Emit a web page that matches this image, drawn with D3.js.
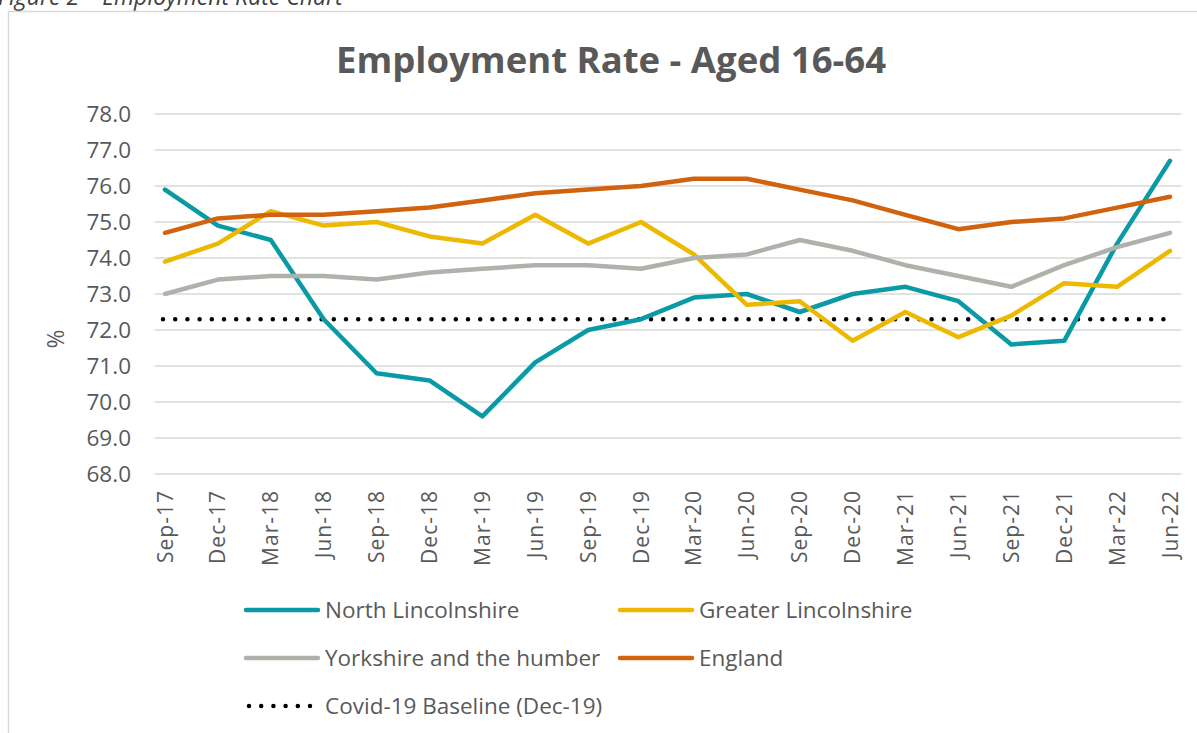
<!DOCTYPE html>
<html>
<head>
<meta charset="utf-8">
<script src="https://cdn.jsdelivr.net/npm/d3@7"></script>
<style>
  html, body { margin: 0; padding: 0; background: #fff; }
  svg { display: block; font-family: "Open Sans", "Noto Sans", sans-serif; }
</style>
</head>
<body>
<svg id="chart" width="1197" height="733"></svg>
<script>
const categories = ["Sep-17","Dec-17","Mar-18","Jun-18","Sep-18","Dec-18","Mar-19","Jun-19","Sep-19","Dec-19",
  "Mar-20","Jun-20","Sep-20","Dec-20","Mar-21","Jun-21","Sep-21","Dec-21","Mar-22","Jun-22"];
const northLincolnshire = [75.9,74.9,74.5,72.3,70.8,70.6,69.6,71.1,72.0,72.3,72.9,73.0,72.5,73.0,73.2,72.8,71.6,71.7,74.4,76.7];
const greaterLincolnshire = [73.9,74.4,75.3,74.9,75.0,74.6,74.4,75.2,74.4,75.0,74.1,72.7,72.8,71.7,72.5,71.8,72.4,73.3,73.2,74.2];
const yorkshireHumber = [73.0,73.4,73.5,73.5,73.4,73.6,73.7,73.8,73.8,73.7,74.0,74.1,74.5,74.2,73.8,73.5,73.2,73.8,74.3,74.7];
const england = [74.7,75.1,75.2,75.2,75.3,75.4,75.6,75.8,75.9,76.0,76.2,76.2,75.9,75.6,75.2,74.8,75.0,75.1,75.4,75.7];
const covidBaseline = 72.3;
const yTicks = [68,69,70,71,72,73,74,75,76,77,78];

const seriesNames = ["North Lincolnshire","Greater Lincolnshire","Yorkshire and the humber","England"];
const seriesColors = ["#0A9AA5","#EDB800","#ADB2AA","#D1620E"];
const seriesValues = [northLincolnshire, greaterLincolnshire, yorkshireHumber, england];

const svg = d3.select("#chart");
const textColor = "#595959";
const ff = "'Open Sans', 'Noto Sans', sans-serif";

// caption (cut off at top, as in the reference)
svg.append("text").attr("x", -2).attr("y", 5)
  .attr("font-size", 23).attr("font-style", "italic").attr("fill", "#404040")
  .text("Figure 2 – Employment Rate Chart");

// frame
svg.append("path").attr("d", "M8.5,733 L8.5,11.5 L1197,11.5")
  .attr("fill", "none").attr("stroke", "#D9D9D9").attr("stroke-width", 1.5);

// title
svg.append("text").attr("x", 611).attr("y", 73).attr("text-anchor", "middle")
  .attr("font-size", 36.5).attr("font-weight", "bold").attr("fill", textColor)
  .text("Employment Rate - Aged 16-64");

const x = d3.scalePoint().domain(categories).range([165, 1170]);
const y = d3.scaleLinear().domain([68, 78]).range([474, 114]);
const gridLeft = 155, gridRight = 1181;

// gridlines
svg.append("g").selectAll("line").data(yTicks).join("line")
  .attr("x1", gridLeft).attr("x2", gridRight)
  .attr("y1", d => y(d)).attr("y2", d => y(d))
  .attr("stroke", "#D9D9D9").attr("stroke-width", 1.5);

// y axis labels
const yAxis = d3.axisLeft(y).tickValues(yTicks).tickFormat(d3.format(".1f")).tickSize(0).tickPadding(0);
const gy = svg.append("g").attr("transform", "translate(131,0)").call(yAxis);
gy.select(".domain").remove();
gy.selectAll("text").attr("font-size", 22.5).attr("fill", textColor)
  .attr("font-family", ff).attr("dy", "0.35em");

svg.append("text").attr("transform", "translate(64,339) rotate(-90)")
  .attr("text-anchor", "middle").attr("font-size", 23).attr("fill", textColor).text("%");

// x axis labels
const xAxis = d3.axisBottom(x).tickSize(0).tickPadding(0);
const gx = svg.append("g").attr("transform", "translate(0,490)").call(xAxis);
gx.select(".domain").remove();
gx.selectAll("text")
  .attr("font-size", 21).attr("fill", textColor).attr("letter-spacing", 1)
  .attr("font-family", ff)
  .attr("text-anchor", "end").attr("dy", null).attr("y", 0)
  .attr("transform", "rotate(-90) translate(0,7)");

// baseline dotted
svg.append("line")
  .attr("x1", x(categories[0]) - 2).attr("x2", x(categories[categories.length-1]) + 2)
  .attr("y1", y(covidBaseline)).attr("y2", y(covidBaseline))
  .attr("stroke", "#000").attr("stroke-width", 4.5)
  .attr("stroke-linecap", "round").attr("stroke-dasharray", "0 12.2");

// lines
const line = d3.line().x((d, i) => x(categories[i])).y(d => y(d));
seriesValues.forEach((vals, k) => {
  svg.append("path").datum(vals).attr("d", line)
    .attr("fill", "none").attr("stroke", seriesColors[k]).attr("stroke-width", 4.5)
    .attr("stroke-linejoin", "round").attr("stroke-linecap", "round");
});

// legend
const legendItems = [
  {name: seriesNames[0], color: seriesColors[0], x: 246, y: 610},
  {name: seriesNames[1], color: seriesColors[1], x: 620, y: 610},
  {name: seriesNames[2], color: seriesColors[2], x: 246, y: 658},
  {name: seriesNames[3], color: seriesColors[3], x: 620, y: 658}
];
const lg = svg.append("g");
legendItems.forEach(it => {
  lg.append("line").attr("x1", it.x).attr("x2", it.x + 72).attr("y1", it.y).attr("y2", it.y)
    .attr("stroke", it.color).attr("stroke-width", 4.5).attr("stroke-linecap", "round");
  lg.append("text").attr("x", it.x + 79).attr("y", it.y).attr("dy", "0.35em")
    .attr("font-size", 22.5).attr("fill", textColor).text(it.name);
});
lg.append("line").attr("x1", 249).attr("x2", 315).attr("y1", 706).attr("y2", 706)
  .attr("stroke", "#000").attr("stroke-width", 4.5).attr("stroke-linecap", "round")
  .attr("stroke-dasharray", "0 12.2");
lg.append("text").attr("x", 325).attr("y", 706).attr("dy", "0.35em")
  .attr("font-size", 22.5).attr("fill", textColor).text("Covid-19 Baseline (Dec-19)");
</script>
</body>
</html>
